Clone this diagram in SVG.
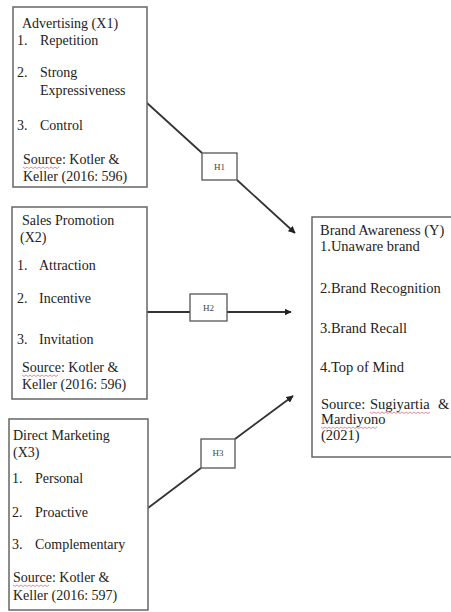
<svg xmlns="http://www.w3.org/2000/svg" width="451" height="612" viewBox="0 0 451 612">
<defs>
<style>
.box{fill:#fff;stroke:#666;stroke-width:1.5}
.hb{fill:#fff;stroke:#555;stroke-width:1.3}
.t{font-family:"Liberation Serif","Times New Roman",serif;font-size:14px;fill:#222}
.ty{font-family:"Liberation Serif","Times New Roman",serif;font-size:14.5px;fill:#222}
.h{font-family:"Liberation Serif","Times New Roman",serif;font-size:9px;fill:#444;text-anchor:middle}
.c{fill:none;stroke:#333;stroke-width:1.8}
.sq{fill:none;stroke:#d9848f;stroke-width:0.9}
</style>
<marker id="ar" viewBox="0 0 10 10" refX="9" refY="5" markerWidth="4" markerHeight="4" orient="auto" markerUnits="strokeWidth">
<path d="M0,0 L10,5 L0,10 z" fill="#222"/>
</marker>
</defs>
<rect width="451" height="612" fill="#fff"/>

<g id="connectors">
<path class="c" d="M147,103 L202,153"/>
<path class="c" d="M237,180 L295,233" marker-end="url(#ar)"/>
<path class="c" d="M147,312 L190,312"/>
<path class="c" d="M227,312 L291,312" marker-end="url(#ar)"/>
<path class="c" d="M148,508 L201,468"/>
<path class="c" d="M235,439 L293,396" marker-end="url(#ar)"/>
</g>

<g id="advertising">
<rect class="box" x="13" y="7" width="134" height="180"/>
<text class="t" x="22" y="28">Advertising (X1)</text>
<text class="t" x="17" y="45">1.</text><text class="t" x="40" y="45">Repetition</text>
<text class="t" x="17" y="77">2.</text><text class="t" x="40" y="77">Strong</text>
<text class="t" x="40" y="95">Expressiveness</text>
<text class="t" x="17" y="130">3.</text><text class="t" x="40" y="130">Control</text>
<text class="t" x="23" y="164">Source: Kotler &amp;</text>
<text class="t" x="23" y="181">Keller (2016: 596)</text>
<path class="sq" d="M23,167 l2,1.5 l2,-1.5 l2,1.5 l2,-1.5 l2,1.5 l2,-1.5 l2,1.5 l2,-1.5 l2,1.5 l2,-1.5 l2,1.5 l2,-1.5 l2,1.5 l2,-1.5 l2,1.5 l2,-1.5 l2,1.5 l2,-1.5"/>
</g>

<g id="sales-promotion">
<rect class="box" x="12" y="207" width="135" height="192"/>
<text class="t" x="22" y="225">Sales Promotion</text>
<text class="t" x="20" y="242">(X2)</text>
<text class="t" x="17" y="270">1.</text><text class="t" x="39" y="270">Attraction</text>
<text class="t" x="17" y="303">2.</text><text class="t" x="39" y="303">Incentive</text>
<text class="t" x="17" y="344">3.</text><text class="t" x="39" y="344">Invitation</text>
<text class="t" x="22" y="372">Source: Kotler &amp;</text>
<text class="t" x="22" y="389">Keller (2016: 596)</text>
<path class="sq" d="M22,375 l2,1.5 l2,-1.5 l2,1.5 l2,-1.5 l2,1.5 l2,-1.5 l2,1.5 l2,-1.5 l2,1.5 l2,-1.5 l2,1.5 l2,-1.5 l2,1.5 l2,-1.5 l2,1.5 l2,-1.5 l2,1.5 l2,-1.5"/>
</g>

<g id="direct-marketing">
<rect class="box" x="9" y="419" width="139" height="191"/>
<text class="t" x="13" y="440">Direct Marketing</text>
<text class="t" x="13" y="457">(X3)</text>
<text class="t" x="12" y="483">1.</text><text class="t" x="35" y="483">Personal</text>
<text class="t" x="12" y="517">2.</text><text class="t" x="35" y="517">Proactive</text>
<text class="t" x="12" y="549">3.</text><text class="t" x="35" y="549">Complementary</text>
<text class="t" x="13" y="582">Source: Kotler &amp;</text>
<text class="t" x="13" y="600">Keller (2016: 597)</text>
<path class="sq" d="M13,585 l2,1.5 l2,-1.5 l2,1.5 l2,-1.5 l2,1.5 l2,-1.5 l2,1.5 l2,-1.5 l2,1.5 l2,-1.5 l2,1.5 l2,-1.5 l2,1.5 l2,-1.5 l2,1.5 l2,-1.5 l2,1.5 l2,-1.5"/>
</g>

<g id="brand-awareness">
<rect class="box" x="312" y="217" width="145" height="240"/>
<text class="ty" x="320" y="235">Brand Awareness (Y)</text>
<text class="ty" x="320" y="251">1.Unaware brand</text>
<text class="ty" x="320" y="293">2.Brand Recognition</text>
<text class="ty" x="320" y="333">3.Brand Recall</text>
<text class="ty" x="320" y="372">4.Top of Mind</text>
<text class="ty" x="321" y="409">Source:</text>
<text class="ty" x="370" y="409">Sugiyartia</text>
<text class="ty" x="438" y="409">&amp;</text>
<text class="ty" x="321" y="424">Mardiyono</text>
<text class="ty" x="321" y="440">(2021)</text>
<path class="sq" d="M370,412 l2,1.5 l2,-1.5 l2,1.5 l2,-1.5 l2,1.5 l2,-1.5 l2,1.5 l2,-1.5 l2,1.5 l2,-1.5 l2,1.5 l2,-1.5 l2,1.5 l2,-1.5 l2,1.5 l2,-1.5 l2,1.5 l2,-1.5 l2,1.5 l2,-1.5 l2,1.5 l2,-1.5 l2,1.5 l2,-1.5 l2,1.5 l2,-1.5 l2,1.5 l2,-1.5 l2,1.5 l2,-1.5"/>
<path class="sq" d="M321,427 l2,1.5 l2,-1.5 l2,1.5 l2,-1.5 l2,1.5 l2,-1.5 l2,1.5 l2,-1.5 l2,1.5 l2,-1.5 l2,1.5 l2,-1.5 l2,1.5 l2,-1.5 l2,1.5 l2,-1.5 l2,1.5 l2,-1.5 l2,1.5 l2,-1.5 l2,1.5 l2,-1.5 l2,1.5 l2,-1.5 l2,1.5 l2,-1.5 l2,1.5 l2,-1.5"/>
</g>

<g id="h1">
<rect class="hb" x="202" y="153" width="35" height="27"/>
<text class="h" x="219.5" y="170">H1</text>
</g>
<g id="h2">
<rect class="hb" x="190" y="294" width="37" height="27"/>
<text class="h" x="208.5" y="311">H2</text>
</g>
<g id="h3">
<rect class="hb" x="201" y="439" width="34" height="29"/>
<text class="h" x="218" y="456">H3</text>
</g>
</svg>
